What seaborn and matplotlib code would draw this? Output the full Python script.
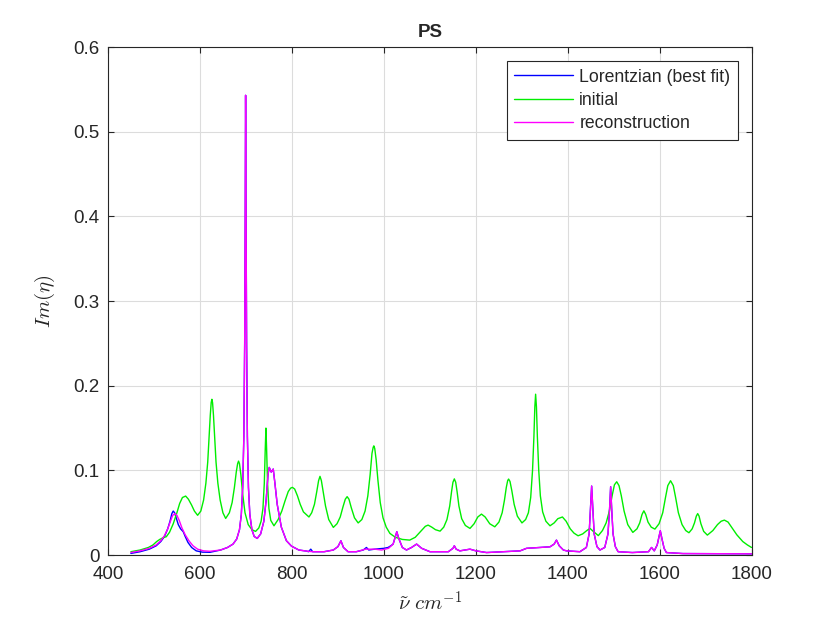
import matplotlib
matplotlib.use("Agg")
import matplotlib.pyplot as plt
import seaborn as sns
import pandas as pd

# wavenumber (cm^-1) and Im(eta)
initial_x = [450, 470, 488, 498, 506, 513, 520, 527, 534, 542, 550, 556, 562, 569, 575, 582, 588, 595,
             602, 608, 613, 617, 620, 622.5, 624.5, 626, 627.5, 629.5, 632, 635, 639, 644, 650, 656,
             664, 670, 675, 679, 682, 684, 686, 689, 693, 698, 705, 713, 721,
             728, 733, 737, 740, 742, 743.5, 745, 747, 750, 754, 761,
             770, 778, 785, 792, 797, 801, 806, 812, 818, 825, 837,
             843, 849, 854, 858, 861, 864, 868, 873, 880, 890,
             898, 905, 911, 916, 920, 924, 929, 936, 944,
             952, 959, 965, 970, 974, 976.5, 978, 980, 983, 987, 992, 998, 1005, 1013, 1025, 1040, 1056,
             1068, 1080, 1090, 1096, 1104, 1112, 1122,
             1130, 1137, 1143, 1147, 1150, 1153, 1156, 1159, 1163, 1169, 1177, 1187,
             1196, 1204, 1212, 1220, 1230, 1241,
             1250, 1257, 1262, 1266, 1269, 1271, 1274, 1278, 1283, 1290, 1300,
             1308, 1314, 1319, 1323, 1326, 1328, 1329.7, 1331.5, 1333.5, 1336.5, 1340, 1345, 1352, 1361,
             1370, 1378, 1388, 1396, 1405, 1413, 1422,
             1432, 1441, 1448, 1455, 1466,
             1475, 1483, 1490, 1496, 1501, 1506, 1511, 1516, 1522, 1530, 1541,
             1550, 1556, 1561, 1565, 1569, 1574, 1581, 1589,
             1598, 1606, 1612, 1617, 1623, 1629, 1634, 1640, 1648, 1656, 1663,
             1670, 1675, 1679, 1682, 1685, 1689, 1695, 1703,
             1715, 1725, 1733, 1740, 1748, 1757, 1767, 1780, 1790, 1799]
initial_y = [0.004, 0.006, 0.009, 0.012, 0.016, 0.0186, 0.0205, 0.0217, 0.027, 0.037, 0.05, 0.061, 0.068,
             0.0697, 0.066, 0.059, 0.052, 0.047,
             0.052, 0.065, 0.085, 0.11, 0.14, 0.165, 0.18, 0.184, 0.18, 0.165, 0.14, 0.11, 0.085, 0.065, 0.05,
             0.0433,
             0.05, 0.062, 0.08, 0.098, 0.108, 0.111, 0.108, 0.095, 0.072, 0.05, 0.036, 0.03, 0.028,
             0.032, 0.04, 0.055, 0.085, 0.125, 0.15, 0.125, 0.085, 0.055, 0.041, 0.0346,
             0.042, 0.052, 0.064, 0.075, 0.079, 0.08, 0.078, 0.07, 0.06, 0.051, 0.045,
             0.05, 0.06, 0.075, 0.088, 0.093, 0.088, 0.075, 0.058, 0.042, 0.0327,
             0.037, 0.045, 0.057, 0.066, 0.069, 0.066, 0.056, 0.044, 0.038,
             0.042, 0.052, 0.07, 0.095, 0.12, 0.127, 0.129, 0.126, 0.113, 0.088, 0.062, 0.044, 0.033, 0.0256,
             0.021, 0.0185, 0.0177,
             0.021, 0.028, 0.034, 0.0354, 0.033, 0.03, 0.0283,
             0.033, 0.042, 0.058, 0.075, 0.086, 0.09, 0.086, 0.075, 0.058, 0.043, 0.035, 0.0315,
             0.037, 0.045, 0.0484, 0.045, 0.037, 0.0334,
             0.039, 0.05, 0.065, 0.08, 0.088, 0.0898, 0.087, 0.076, 0.06, 0.046, 0.038,
             0.042, 0.05, 0.068, 0.1, 0.14, 0.175, 0.19, 0.175, 0.14, 0.1, 0.07, 0.051, 0.04, 0.0346,
             0.038, 0.043, 0.045, 0.04, 0.031, 0.026, 0.0228,
             0.025, 0.029, 0.0315, 0.028, 0.023,
             0.029, 0.038, 0.052, 0.07, 0.083, 0.0866, 0.082, 0.07, 0.052, 0.036, 0.0268,
             0.031, 0.038, 0.048, 0.0523, 0.048, 0.039, 0.033, 0.0307,
             0.037, 0.05, 0.068, 0.082, 0.0878, 0.082, 0.068, 0.05, 0.036, 0.029, 0.0264,
             0.031, 0.038, 0.046, 0.049, 0.046, 0.037, 0.028, 0.0236,
             0.029, 0.036, 0.04, 0.0413, 0.039, 0.032, 0.024, 0.016, 0.012, 0.009]

recon_x = [450, 470, 490, 505, 515, 523, 530, 536, 541, 545.6, 550, 555, 561, 568, 576, 585, 595, 608, 622,
           645, 660, 672, 680, 686, 690, 693, 695.5, 697.3, 698.5, 699.3, 700.3, 701.5, 703.2, 705.5, 708.5,
           713, 718, 724.6, 732, 739, 744, 748, 750.7, 755, 759.4, 763, 768, 777, 788, 799, 815, 832, 845, 870,
           890, 900, 906.5, 912, 922, 940, 960, 980, 995, 1010, 1020, 1025, 1028, 1032, 1040, 1049, 1060, 1071,
           1082, 1100, 1140, 1150, 1153, 1157, 1165, 1187, 1200, 1223, 1260, 1296, 1310, 1340, 1361, 1370,
           1375, 1381, 1390, 1397, 1426, 1440, 1446, 1449, 1451.5, 1454, 1457, 1463, 1469.6, 1480, 1487,
           1490.5, 1492.8, 1495, 1498, 1503, 1509, 1540, 1575, 1581.7, 1587.6, 1594, 1598, 1600.7, 1604, 1609,
           1614, 1650, 1800]
recon_y = [0.003, 0.005, 0.008, 0.012, 0.017, 0.023, 0.031, 0.04, 0.047, 0.049, 0.047, 0.041, 0.032, 0.024,
           0.017, 0.011, 0.007, 0.005, 0.0045,
           0.006, 0.009, 0.013, 0.019, 0.03, 0.048, 0.08, 0.14, 0.25, 0.4, 0.543, 0.4, 0.25, 0.14, 0.08, 0.048,
           0.03, 0.022, 0.0197, 0.025, 0.04, 0.065, 0.095, 0.1035, 0.098, 0.1016, 0.085, 0.06, 0.033, 0.017,
           0.0106, 0.006, 0.0047, 0.004, 0.004,
           0.006, 0.01, 0.0169, 0.009, 0.004, 0.004, 0.007, 0.007, 0.006, 0.008, 0.013, 0.022, 0.0276, 0.02,
           0.009, 0.006, 0.009, 0.013, 0.008, 0.004, 0.004, 0.008, 0.011, 0.007, 0.005, 0.007, 0.005, 0.003,
           0.004, 0.005, 0.008, 0.009, 0.0098, 0.013, 0.0177, 0.011, 0.006, 0.005, 0.004, 0.009, 0.025, 0.055,
           0.0815, 0.055, 0.025, 0.01, 0.006, 0.009, 0.025, 0.055, 0.0807, 0.055, 0.025, 0.01, 0.004, 0.003,
           0.004, 0.009, 0.005, 0.012, 0.022, 0.0287, 0.02, 0.008, 0.003, 0.0018, 0.0015]

lorentz_x = [450, 470, 490, 505, 515, 523, 530, 535, 539, 542, 545, 549, 553, 558, 563.8, 568, 574, 582, 592,
             605, 622, 645, 660, 672, 680, 686, 690, 693, 695.5, 697.3, 698.5, 699.3, 700.3, 701.5, 703.2,
             705.5, 708.5, 713, 718, 724.6, 732, 739, 744, 748, 750.7, 755, 759.4, 763, 768, 777, 788, 799,
             815, 832, 836, 841, 845, 870, 890, 900, 906.5, 912, 922, 940, 955, 962, 967, 980, 1000, 1009,
             1015, 1020, 1025, 1028, 1032, 1040, 1049, 1060, 1071, 1082, 1100, 1140, 1150, 1153, 1157, 1165,
             1187, 1200, 1223, 1260, 1296, 1310, 1340, 1361, 1370, 1375, 1381, 1390, 1397, 1426, 1440, 1446,
             1449, 1451.5, 1454, 1457, 1463, 1469.6, 1480, 1487, 1490.5, 1492.8, 1495, 1498, 1503, 1509, 1540,
             1575, 1581.7, 1587.6, 1594, 1598, 1600.7, 1604, 1609, 1614, 1650, 1800]
lorentz_y = [0.002, 0.004, 0.007, 0.011, 0.016, 0.022, 0.031, 0.04, 0.049, 0.052, 0.05, 0.043, 0.036, 0.031,
             0.0276, 0.022, 0.015, 0.009, 0.005, 0.0035, 0.0033,
             0.006, 0.009, 0.013, 0.019, 0.03, 0.048, 0.08, 0.14, 0.25, 0.4, 0.543, 0.4, 0.25, 0.14, 0.08,
             0.048, 0.03, 0.022, 0.0197, 0.025, 0.04, 0.065, 0.095, 0.1035, 0.098, 0.1016, 0.085, 0.06, 0.033,
             0.017, 0.0106, 0.006, 0.0047, 0.004, 0.007, 0.004, 0.004,
             0.006, 0.01, 0.0169, 0.009, 0.004, 0.004, 0.006, 0.009, 0.006, 0.007, 0.008, 0.009, 0.011, 0.013,
             0.022, 0.0276, 0.02, 0.009, 0.006, 0.009, 0.013, 0.008, 0.004, 0.004, 0.008, 0.011, 0.007, 0.005,
             0.007, 0.005, 0.003, 0.004, 0.005, 0.008, 0.009, 0.0098, 0.013, 0.0177, 0.011, 0.006, 0.005,
             0.004, 0.009, 0.025, 0.055, 0.0815, 0.055, 0.025, 0.01, 0.006, 0.009, 0.025, 0.055, 0.0807, 0.055,
             0.025, 0.01, 0.004, 0.003, 0.004, 0.009, 0.005, 0.012, 0.022, 0.0287, 0.02, 0.008, 0.003, 0.0018,
             0.0015]

x_ticks = [400, 600, 800, 1000, 1200, 1400, 1600, 1800]
y_ticks = [0, 0.1, 0.2, 0.3, 0.4, 0.5, 0.6]
y_tick_labels = ["0", "0.1", "0.2", "0.3", "0.4", "0.5", "0.6"]

sns.set_style("white")
plt.rcParams['font.family'] = ['Liberation Sans', 'DejaVu Sans']
plt.rcParams['mathtext.fontset'] = 'cm'

fig = plt.figure(figsize=(8.3, 6.23), dpi=100)
ax = fig.add_axes([0.13, 0.109, 0.776, 0.8155])

df_l = pd.DataFrame({"x": lorentz_x, "y": lorentz_y})
df_i = pd.DataFrame({"x": initial_x, "y": initial_y})
df_r = pd.DataFrame({"x": recon_x, "y": recon_y})
sns.lineplot(data=df_l, x="x", y="y", color="#0000ff", lw=1.0, label="Lorentzian (best fit)", ax=ax, sort=False)
sns.lineplot(data=df_i, x="x", y="y", color="#00ee00", lw=1.0, label="initial", ax=ax, sort=False)
sns.lineplot(data=df_r, x="x", y="y", color="#ff00ff", lw=1.0, label="reconstruction", ax=ax, sort=False)

ax.set_xlim(400, 1800)
ax.set_ylim(0, 0.6)
ax.set_xticks(x_ticks)
ax.set_yticks(y_ticks)
ax.set_yticklabels(y_tick_labels)
ax.grid(True, color="#dcdcdc", lw=0.8)
ax.set_axisbelow(True)
for s in ax.spines.values():
    s.set_color("#262626")
    s.set_linewidth(0.8)
ax.tick_params(direction="in", length=4, width=0.8, colors="#262626", labelsize=13.5,
               top=True, right=True, bottom=True, left=True)
ax.tick_params(axis="x", pad=8)
ax.tick_params(axis="y", pad=6)
ax.set_title("PS", fontsize=13.5, fontweight="bold", pad=7)
ax.set_xlabel(r"$\tilde{\nu}\ cm^{-1}$", fontsize=15, labelpad=5)
ax.set_ylabel(r"$Im(\eta)$", fontsize=15, labelpad=12)

leg = ax.legend(loc="upper right", fontsize=12.7, frameon=True, fancybox=False, framealpha=1,
                edgecolor="#262626", handlelength=3.35, borderaxespad=0.8, labelspacing=0.36,
                borderpad=0.42, handletextpad=0.35)
leg.get_frame().set_linewidth(0.8)

fig.savefig("out.png", dpi=100)
